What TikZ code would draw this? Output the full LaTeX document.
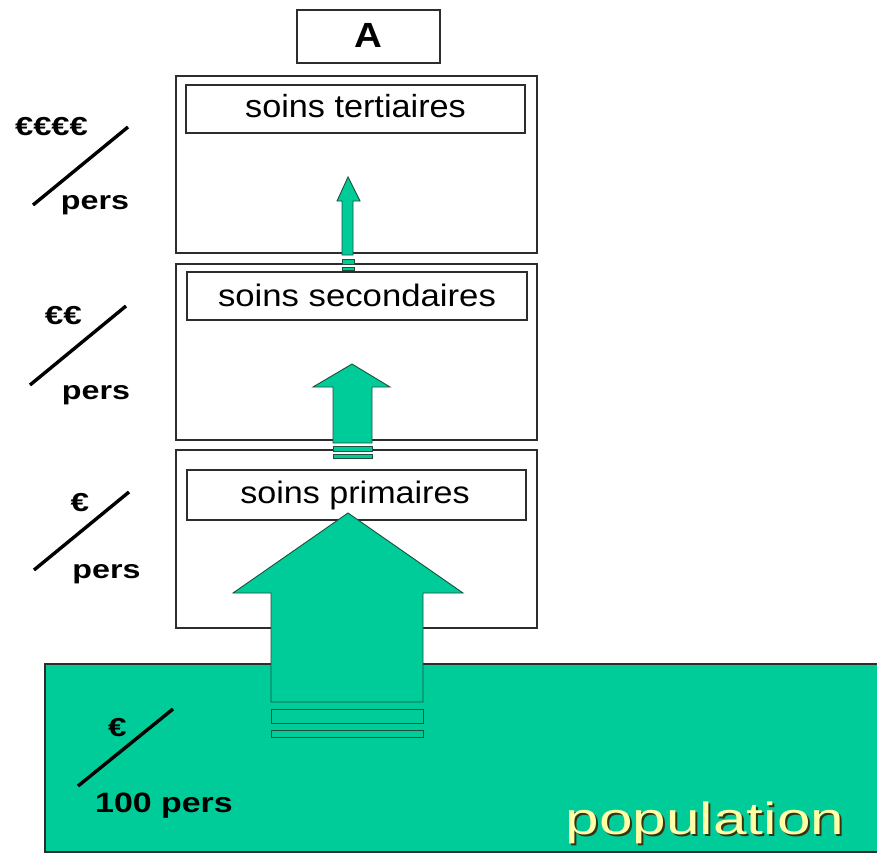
\documentclass[tikz,border=0pt]{standalone}
\usepackage{fontspec}
\setmainfont{Liberation Sans}
\definecolor{pgreen}{RGB}{0,204,153}
\definecolor{edgegray}{RGB}{45,45,45}
\definecolor{arrowedge}{RGB}{30,80,60}
\definecolor{popyellow}{RGB}{255,255,165}
\definecolor{popshadow}{RGB}{55,50,20}
\begin{document}
\begin{tikzpicture}[x=1pt,y=-1pt,
  box/.style={draw=edgegray, line width=1.6pt, fill=white, inner sep=0pt, anchor=north west},
  blockarrow/.style={fill=pgreen, draw=arrowedge, line width=0.9pt, line join=miter},
  careText/.style={inner sep=0pt, anchor=base},
  lbl/.style={inner sep=0pt, anchor=base, font=\fontsize{26}{26}\selectfont\bfseries},
  perslbl/.style={inner sep=0pt, anchor=base, font=\fontsize{26}{26}\selectfont\bfseries},
  slash/.style={line width=3.4pt, black}
]
\useasboundingbox (0,0) rectangle (877,853);
\fill[white] (0,0) rectangle (877,853);

% title box
\node[box, minimum width=143pt, minimum height=53pt] (abox) at (296,9) {};
\node[careText, font=\fontsize{35}{35}\selectfont\bfseries] (atext) at (368,48) {\scalebox{1.1}[1]{A}};

% tertiary level
\node[box, minimum width=361pt, minimum height=177pt] (outer3) at (175,75) {};
\node[box, minimum width=339pt, minimum height=48pt] (inner3) at (185,84) {};
\node[careText, font=\fontsize{32}{32}\selectfont] (t3) at (355.5,118) {\scalebox{1.07}[1]{soins tertiaires}};

% secondary level
\node[box, minimum width=361pt, minimum height=176pt] (outer2) at (175,263) {};
\node[box, minimum width=340pt, minimum height=48pt] (inner2) at (186,271) {};
\node[careText, font=\fontsize{31}{31}\selectfont] (t2) at (357,306) {\scalebox{1.12}[1]{soins secondaires}};

% primary level
\node[box, minimum width=361pt, minimum height=178pt] (outer1) at (175,449) {};
\node[box, minimum width=339pt, minimum height=50pt] (inner1) at (186,469) {};
\node[careText, font=\fontsize{31}{31}\selectfont] (t1) at (355,503) {\scalebox{1.1}[1]{soins primaires}};

% population
\node[draw=edgegray, line width=1.6pt, fill=pgreen, inner sep=0pt, anchor=north west,
      minimum width=840pt, minimum height=188pt] (pop) at (44,663) {};
\node[careText, font=\fontsize{45}{45}\selectfont] (poptext) at (705,834)
  {\makebox[0pt][l]{\raisebox{-2pt}{\hspace{2pt}\textcolor{popshadow}{\scalebox{1.34}[1]{population}}}}\textcolor{popyellow}{\scalebox{1.34}[1]{population}}};

% big arrow (population -> primary)
\draw[blockarrow] (348,513) -- (463,593) -- (423,593) -- (423,702) -- (271,702) -- (271,593) -- (233,593) -- cycle;
\draw[blockarrow] (271,709) rectangle (423,723);
\draw[blockarrow] (271,730) rectangle (423,737);

% medium arrow (primary -> secondary)
\draw[blockarrow] (352,364) -- (390,387) -- (372,387) -- (372,443) -- (333,443) -- (333,387) -- (313,387) -- cycle;
\draw[blockarrow] (333,446) rectangle (372,451);
\draw[blockarrow] (333,454) rectangle (372,458);

% small arrow (secondary -> tertiary)
\draw[blockarrow] (348,177) -- (360,201) -- (353,201) -- (353,255) -- (342,255) -- (342,201) -- (337,201) -- cycle;
\draw[blockarrow] (342,259) rectangle (354,264);
\draw[blockarrow] (342,267) rectangle (354,270);

% cost labels
\node[lbl] (e4) at (51.5,136) {\scalebox{1.26}[1]{€€€€}};
\draw[slash] (33,205) -- (128,127);
\node[perslbl] (p4) at (95,209) {\scalebox{1.24}[1]{pers}};

\node[lbl] (e2) at (63.5,324) {\scalebox{1.28}[1]{€€}};
\draw[slash] (30,385) -- (126,306);
\node[perslbl] (p2) at (96,399) {\scalebox{1.24}[1]{pers}};

\node[lbl] (e1) at (80,511) {\scalebox{1.28}[1]{€}};
\draw[slash] (34,570) -- (129,492);
\node[perslbl] (p1) at (106.5,578) {\scalebox{1.24}[1]{pers}};

\node[lbl] (e0) at (117.5,736) {\scalebox{1.28}[1]{€}};
\draw[slash] (78,786) -- (173,709);
\node[careText, font=\fontsize{28}{28}\selectfont\bfseries] (p0) at (164,812) {\scalebox{1.21}[1]{100 pers}};
\end{tikzpicture}
\end{document}
